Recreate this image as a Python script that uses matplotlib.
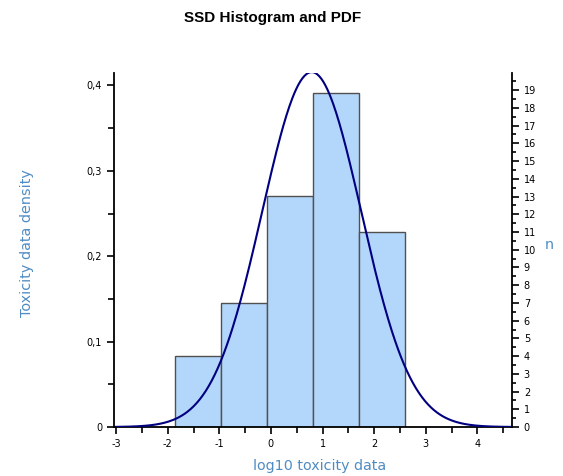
import numpy as np
import matplotlib
matplotlib.use("Agg")
import matplotlib.pyplot as plt
from matplotlib.ticker import MultipleLocator, FuncFormatter

# histogram bins (log10 toxicity) and counts
bin_edges = [-1.86, -0.97, -0.08, 0.81, 1.71, 2.60]
counts = [4, 7, 13, 19, 11]

# fitted normal distribution
mu = 0.79
sigma = 0.96

N = sum(counts)
widths = np.diff(bin_edges)
density = np.array(counts) / (N * widths)

xs = np.linspace(-3.0, 4.7, 400)
pdf = np.exp(-0.5 * ((xs - mu) / sigma) ** 2) / (sigma * np.sqrt(2 * np.pi))

lblcol = '#4f8cc4'

fig = plt.figure(figsize=(5.63, 4.76), dpi=100)
ax = fig.add_axes([0.2025, 0.1029, 0.7069, 0.7437])

ax.bar(bin_edges[:-1], density, width=widths, align='edge',
       color='#b3d7fb', edgecolor='#505050', linewidth=1.0, zorder=2)
ax.plot(xs, pdf, color='#000080', linewidth=1.5, zorder=3)

ax.set_xlim(-3.04, 4.67)
ax.set_ylim(0, 0.4145)
ax.spines['top'].set_visible(False)
ax.spines['right'].set_visible(False)
for s in ['left', 'bottom']:
    ax.spines[s].set_linewidth(1.3)

ax.xaxis.set_major_locator(MultipleLocator(1))
ax.xaxis.set_minor_locator(MultipleLocator(0.5))
ax.yaxis.set_major_locator(MultipleLocator(0.1))
ax.yaxis.set_minor_locator(MultipleLocator(0.05))
ax.yaxis.set_major_formatter(FuncFormatter(lambda v, p: '0' if v == 0 else ('%.1f' % v).replace('.', ',')))
ax.xaxis.set_major_formatter(FuncFormatter(lambda v, p: '%d' % round(v)))
ax.tick_params(which='both', direction='out', labelsize=7, width=1.2)
ax.tick_params(which='major', length=5)
ax.tick_params(which='minor', length=4)

ax2 = ax.twinx()
ax2.set_ylim(0, 0.4145 * N * widths.mean())
for s in ['top', 'left', 'bottom']:
    ax2.spines[s].set_visible(False)
ax2.spines['right'].set_linewidth(1.3)
ax2.yaxis.set_major_locator(MultipleLocator(1))
ax2.yaxis.set_minor_locator(MultipleLocator(0.5))
ax2.tick_params(which='both', direction='out', labelsize=7, width=1.2)
ax2.tick_params(which='major', length=5)
ax2.tick_params(which='minor', length=3)

fig.text(0.485, 0.962, 'SSD Histogram and PDF', ha='center', va='center',
         fontsize=11, fontweight='bold', family='Liberation Sans')
fig.text(0.048, 0.489, 'Toxicity data density', rotation=90, ha='center', va='center',
         fontsize=10.4, color=lblcol)
fig.text(0.975, 0.485, 'n', ha='center', va='center', fontsize=10.4, color=lblcol)
fig.text(0.568, 0.021, 'log10 toxicity data', ha='center', va='center',
         fontsize=10.3, color=lblcol)

fig.savefig('out.png', dpi=100)
